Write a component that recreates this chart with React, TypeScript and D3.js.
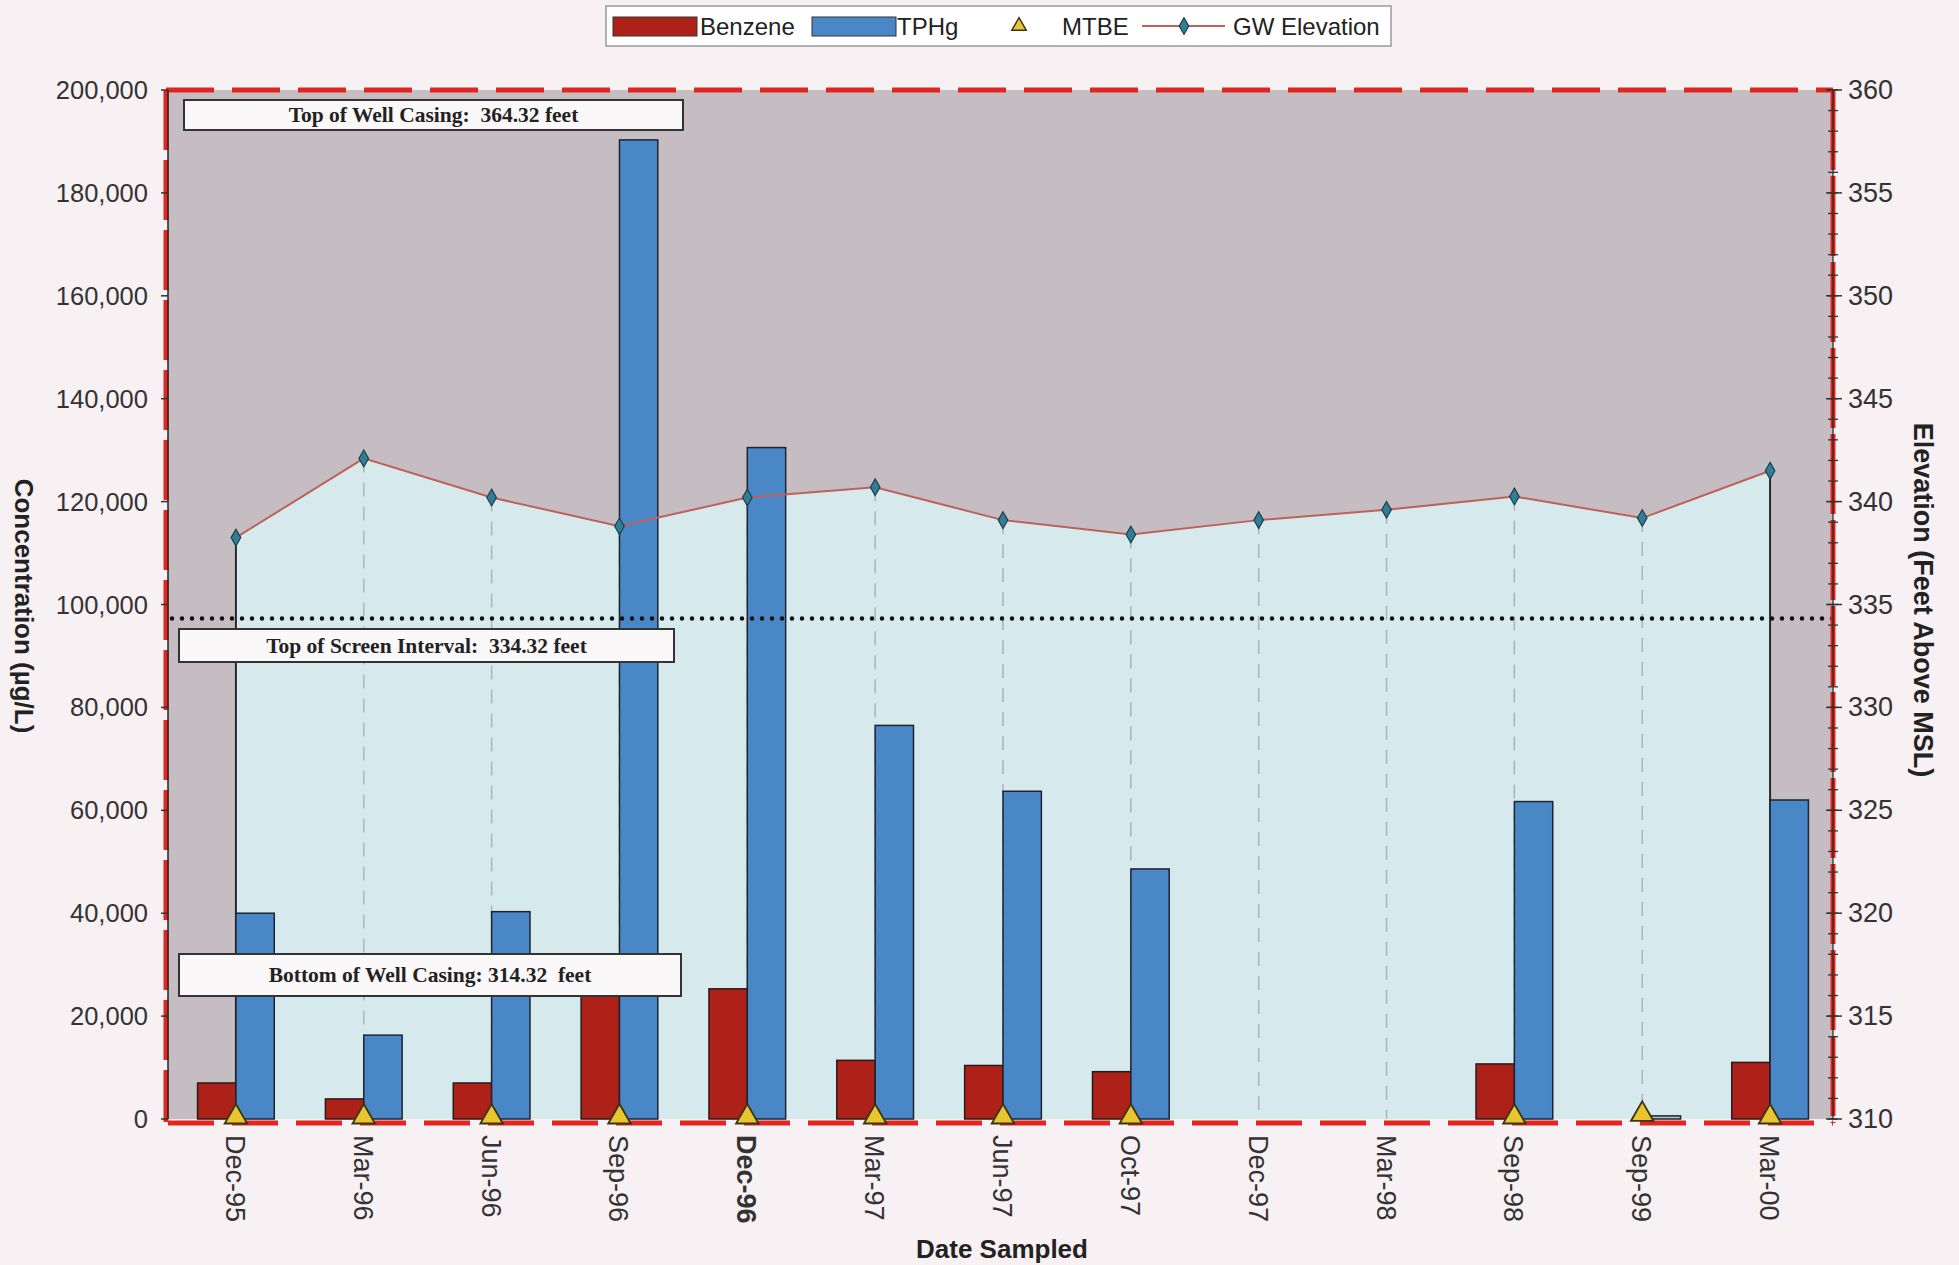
import React from "react";
import * as d3 from "d3";

const categories = ["Dec-95", "Mar-96", "Jun-96", "Sep-96", "Dec-96", "Mar-97", "Jun-97", "Oct-97", "Dec-97", "Mar-98", "Sep-98", "Sep-99", "Mar-00"];
const benzene = [7000, 3900, 7000, 28000, 25300, 11400, 10400, 9200, 0, 0, 10700, 0, 11000];
const tphg = [40000, 16300, 40300, 190300, 130500, 76500, 63700, 48600, 0, 0, 61700, 600, 62000];
const mtbe: (number | null)[] = [0, 0, 0, 0, 0, 0, 0, 0, null, null, 0, 500, 0];
const gwElevation = [338.25, 342.1, 340.2, 338.8, 340.2, 340.7, 339.1, 338.4, 339.1, 339.6, 340.25, 339.2, 341.5];
const leftTicks = [0, 20000, 40000, 60000, 80000, 100000, 120000, 140000, 160000, 180000, 200000];
const rightTicks = [310, 315, 320, 325, 330, 335, 340, 345, 350, 355, 360];
const screenTop = 334.32;
const labels = ["Top of Well Casing:  364.32 feet", "Top of Screen Interval:  334.32 feet", "Bottom of Well Casing: 314.32  feet"];

const W = 1959, H = 1265;
const L = 168, R = 1833, T = 90, B = 1119;

export default function App() {
  const x = d3.scaleBand<string>().domain(categories).range([L + 4, R + 1]).paddingInner(0.4).paddingOuter(0.2);
  const xs = d3.scaleBand<string>().domain(["Benzene", "TPHg"]).range([0, x.bandwidth()]);
  const yL = d3.scaleLinear().domain([0, 200000]).range([B, T]);
  const yR = d3.scaleLinear().domain([310, 360]).range([B, T]);
  const cx = (c: string) => (x(c) as number) + x.bandwidth() / 2;
  const fmt = d3.format(",");

  const pts = categories.map((c, i) => [cx(c), yR(gwElevation[i])] as [number, number]);
  const area = d3.area<[number, number]>().x(d => d[0]).y0(B).y1(d => d[1])(pts) || "";
  const line = d3.line<[number, number]>()(pts) || "";
  const diamond = d3.symbol().type(d3.symbolDiamond).size(80)() || "";
  const tri = d3.symbol().type(d3.symbolTriangle).size(220)() || "";
  const minor = d3.range(310, 361, 1);

  const boxes = [
    { x: 184, y: 100, w: 499, h: 30, t: labels[0] },
    { x: 179, y: 629, w: 495, h: 33, t: labels[1] },
    { x: 179, y: 954, w: 502, h: 42, t: labels[2] },
  ];

  return (
    <svg width={W} height={H} style={{ position: "absolute", left: 0, top: 0 }} fontFamily="Arial, 'Liberation Sans', sans-serif">
      <rect x={0} y={0} width={W} height={H} fill="#f8f1f3" />
      {/* plot background */}
      <rect x={L} y={T} width={R - L} height={B - T} fill="#c5bdc1" />
      <path d={area} fill="#d6eaee" />
      {/* drop lines */}
      {pts.map((p, i) => (
        <line key={"d" + i} x1={p[0]} x2={p[0]} y1={p[1]} y2={B}
          stroke={i === 0 || i === pts.length - 1 ? "#2a2a2a" : "#aab4b9"}
          strokeWidth={i === 0 || i === pts.length - 1 ? 2 : 1.5}
          strokeDasharray={i === 0 || i === pts.length - 1 ? undefined : "14 10"} />
      ))}
      {/* bars */}
      {categories.map((c, i) => (
        <g key={"b" + i}>
          {benzene[i] > 0 && (
            <rect x={(x(c) as number) + (xs("Benzene") as number)} y={yL(benzene[i])} width={xs.bandwidth()} height={B - yL(benzene[i])}
              fill="#ad2119" stroke="#2a1a1a" strokeWidth={1.5} />
          )}
          {tphg[i] > 0 && (
            <rect x={(x(c) as number) + (xs("TPHg") as number)} y={yL(tphg[i])} width={xs.bandwidth()} height={B - yL(tphg[i])}
              fill={tphg[i] < 2000 ? "#b9c3c8" : "#4a87c6"} stroke="#1c2430" strokeWidth={1.5} />
          )}
        </g>
      ))}
      {/* GW line */}
      <path d={line} fill="none" stroke="#c0605a" strokeWidth={2} />
      {pts.map((p, i) => (
        <path key={"m" + i} d={diamond} transform={`translate(${p[0]},${p[1]})`} fill="#2f7f98" stroke="#1e3e4a" strokeWidth={1.2} />
      ))}
      {/* screen interval */}
      <line x1={L + 4} x2={R} y1={yR(screenTop)} y2={yR(screenTop)} stroke="#111" strokeWidth={4.5} strokeLinecap="round" strokeDasharray="0 10" />
      {/* label boxes */}
      {boxes.map((b, i) => (
        <g key={"lb" + i}>
          <rect x={b.x} y={b.y} width={b.w} height={b.h} fill="#fbf8fa" stroke="#333" strokeWidth={2} />
          <text x={b.x + b.w / 2} y={b.y + b.h / 2 + 7} textAnchor="middle" fontFamily="'Liberation Serif', 'Times New Roman', serif" fontWeight="bold" fontSize={21.5} fill="#222" style={{ whiteSpace: "pre" }}>{b.t}</text>
        </g>
      ))}
      {/* red dashed border */}
      <line x1={L - 2} x2={R} y1={T} y2={T} stroke="#e0261e" strokeWidth={5} strokeDasharray="48 18" />
      <line x1={L - 2} x2={L - 2} y1={T} y2={B + 3} stroke="#e0261e" strokeWidth={5} strokeDasharray="60 10" />
      <line x1={L} x2={R} y1={B + 4} y2={B + 4} stroke="#e0261e" strokeWidth={5} strokeDasharray="46 18" />
      <line x1={R} x2={R} y1={T} y2={B + 4} stroke="#e0261e" strokeWidth={5} strokeDasharray="80 6" />
      {/* MTBE */}
      {categories.map((c, i) => mtbe[i] === null ? null : (
        <path key={"t" + i} d={tri} transform={`translate(${cx(c)},${yL(mtbe[i] as number) - 2})`} fill="#e9c62e" stroke="#3b3418" strokeWidth={1.8} />
      ))}
      {/* left axis */}
      <line x1={L} x2={L} y1={T} y2={B} stroke="#222" strokeWidth={1.5} />
      {leftTicks.map(t => (
        <g key={"lt" + t}>
          <line x1={L - 7} x2={L} y1={yL(t)} y2={yL(t)} stroke="#333" strokeWidth={1.5} />
          <text x={148} y={yL(t) + 9} textAnchor="end" fontSize={25.5} fill="#333">{fmt(t)}</text>
        </g>
      ))}
      {/* right axis */}
      <line x1={R} x2={R} y1={T} y2={B} stroke="#222" strokeWidth={1.2} />
      {minor.map(t => (
        <line key={"mn" + t} x1={R - 5} x2={R + 5} y1={yR(t)} y2={yR(t)} stroke="#333" strokeWidth={1.3} />
      ))}
      {rightTicks.map(t => (
        <g key={"rt" + t}>
          <line x1={R - 7} x2={R + 9} y1={yR(t)} y2={yR(t)} stroke="#333" strokeWidth={1.5} />
          <text x={1848} y={yR(t) + 9} textAnchor="start" fontSize={27} fill="#333">{t}</text>
        </g>
      ))}
      {/* category labels */}
      {categories.map((c, i) => (
        <text key={"cl" + i} transform={`translate(${cx(c) - 10},${1135}) rotate(90)`} fontSize={27}
          fontWeight={c === "Dec-96" ? "bold" : "normal"} fill="#333">{c}</text>
      ))}
      {/* axis titles */}
      <text transform={`translate(15,606) rotate(90)`} textAnchor="middle" fontSize={26} fontWeight="bold" fill="#222">Concentration (µg/L)</text>
      <text transform={`translate(1914,600) rotate(90)`} textAnchor="middle" fontSize={27} fontWeight="bold" fill="#222">Elevation (Feet Above MSL)</text>
      <text x={1002} y={1258} textAnchor="middle" fontSize={26} fontWeight="bold" fill="#222">Date Sampled</text>
      {/* legend */}
      <g>
        <rect x={606} y={6} width={785} height={40} fill="#ffffff" stroke="#999" strokeWidth={1.5} />
        <rect x={613} y={17} width={84} height={19} fill="#ad2119" stroke="#333" strokeWidth={1} />
        <text x={700} y={35} fontSize={24} fill="#222">Benzene</text>
        <rect x={812} y={17} width={84} height={19} fill="#4a87c6" stroke="#333" strokeWidth={1} />
        <text x={897} y={35} fontSize={24} fill="#222">TPHg</text>
        <path d={d3.symbol().type(d3.symbolTriangle).size(90)() || ""} transform="translate(1019,26)" fill="#e9c62e" stroke="#3b3418" strokeWidth={1.5} />
        <text x={1062} y={35} fontSize={24} fill="#222">MTBE</text>
        <line x1={1142} x2={1225} y1={26} y2={26} stroke="#c0605a" strokeWidth={2} />
        <path d={diamond} transform="translate(1184,26)" fill="#2f7f98" stroke="#1e3e4a" strokeWidth={1.2} />
        <text x={1233} y={35} fontSize={24} fill="#222">GW Elevation</text>
      </g>
    </svg>
  );
}
